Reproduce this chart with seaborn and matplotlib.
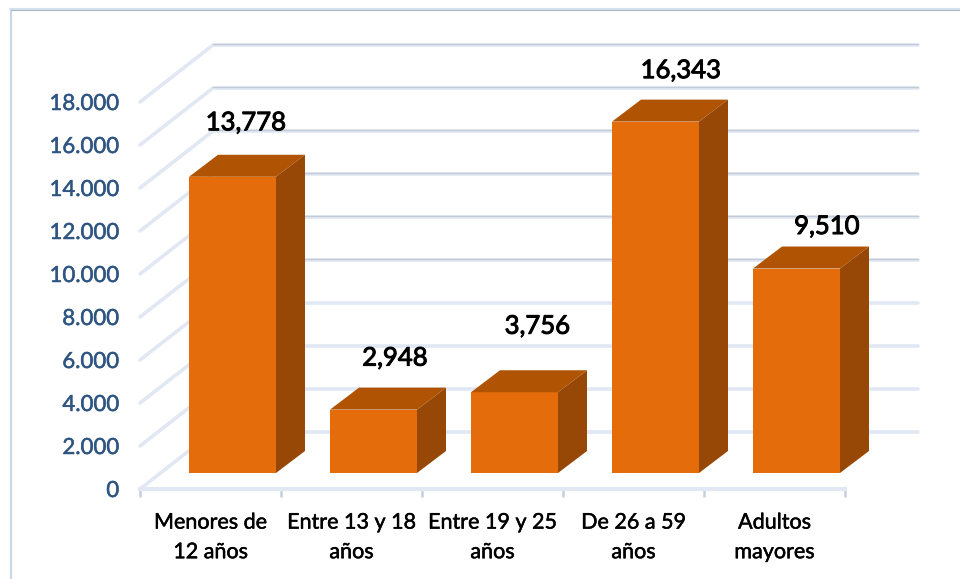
import matplotlib
matplotlib.use('Agg')
import matplotlib.pyplot as plt
import matplotlib.patheffects as pe
from matplotlib.lines import Line2D
from matplotlib.patches import Polygon
import pandas as pd
import seaborn as sns

# data
categorias = ['Menores de\n12 años', 'Entre 13 y 18\naños', 'Entre 19 y 25\naños',
              'De 26 a 59\naños', 'Adultos\nmayores']
valores = [13778, 2948, 3756, 16343, 9510]
ticks_y = [0, 2000, 4000, 6000, 8000, 10000, 12000, 14000, 16000, 18000]

# label offsets from the top of each bar front, in pixels
label_dx = [13.5, 21.5, 23, 25.5, 30.5]
label_dy = [54, 51.5, 66, 51, 42]

W, H = 960, 579
FRONTAL = '#E46C0A'
TAPA = '#B05404'
LADO = '#974806'
GRID = '#E1E8F3'
GRID_OSC = '#C3CBD6'

sns.set_theme(style='white')
plt.rcParams['font.family'] = ['Lato', 'DejaVu Sans']

fig = plt.figure(figsize=(W / 100, H / 100), dpi=100, facecolor='white')


def caja(x0, x1, y_abajo, y_arriba):
    return [x0 / W, 1 - y_abajo / H, (x1 - x0) / W, (y_abajo - y_arriba) / H]


# floor-front plane, holds the axis labels and the walls
ax = fig.add_axes(caja(140, 845, 489, 102))
ax.set_xlim(-0.5, 4.5)
ax.set_ylim(0, 18000)
ax.patch.set_alpha(0)
sns.despine(ax=ax, left=True, top=True, right=True, bottom=False)
ax.spines['bottom'].set_color(GRID)
ax.spines['bottom'].set_linewidth(3)

grueso = [pe.withStroke(linewidth=0.35, foreground='#2F5582')]
negro = [pe.withStroke(linewidth=0.35, foreground='black')]

ax.set_yticks(ticks_y)
ax.set_yticklabels([f'{t:,}'.replace(',', '.') for t in ticks_y], fontsize=16, color='#2F5582',
                   path_effects=grueso)
ax.tick_params(axis='y', length=0, pad=15)
ax.set_xticks(range(len(categorias)))
ax.set_xticklabels(categorias, fontsize=15.5, color='black', linespacing=1.6, path_effects=negro)
ax.tick_params(axis='x', which='major', length=0, pad=17)
ax.set_xticks([i - 0.5 for i in range(len(categorias) + 1)], minor=True)
ax.tick_params(axis='x', which='minor', length=5.5, width=1.8, color='#C5D0DE', bottom=True)

# 3d depth of the walls
px_x = 5 / 705
px_y = 18000 / 387
fondo_x = 73 * px_x
fondo_y = 57 * px_y

for t in ticks_y:
    xs = [-0.5, -0.5 + fondo_x, 4.5 + fondo_x]
    ys = [t, t + fondo_y, t + fondo_y]
    ax.plot(xs, ys, color=GRID, lw=2.6, clip_on=False, solid_capstyle='round', zorder=1)
    if t >= 8000:
        ax.plot(xs[1:], [y + 0.7 * px_y for y in ys[1:]], color=GRID_OSC, lw=1, clip_on=False, zorder=1)

# bars sit in their own plane, a bit inside the floor
ax_b = fig.add_axes(caja(140 + 22, 845 + 22, 489 - 16, 102 - 16), sharey=None)
ax_b.patch.set_alpha(0)
df = pd.DataFrame({'categoria': categorias, 'valor': valores})
sns.barplot(data=df, x='categoria', y='valor', color=FRONTAL, saturation=1, width=87 / 141,
            linewidth=0, ax=ax_b)
ax_b.set_xlim(-0.5, 4.5)
ax_b.set_ylim(0, 18000)
ax_b.axis('off')

prof_x = 29 * px_x
prof_y = 22 * px_y
for i, p in enumerate(list(ax_b.patches)):
    x0, ancho, alto = p.get_x(), p.get_width(), p.get_height()
    x1 = x0 + ancho
    ax_b.add_patch(Polygon([(x0, alto), (x1, alto), (x1 + prof_x, alto + prof_y), (x0 + prof_x, alto + prof_y)],
                           facecolor=TAPA, edgecolor='none', clip_on=False))
    ax_b.add_patch(Polygon([(x1, 0), (x1 + prof_x, prof_y), (x1 + prof_x, alto + prof_y), (x1, alto)],
                           facecolor=LADO, edgecolor='none', clip_on=False))
    ax_b.annotate(f'{valores[i]:,}', (x0 + ancho / 2, alto),
                  xytext=(label_dx[i] * 0.72, label_dy[i] * 0.72), textcoords='offset points',
                  ha='center', va='center', fontsize=18.5, color='black',
                  path_effects=[pe.withStroke(linewidth=0.7, foreground='black')],
                  annotation_clip=False)

# outer chart frame
fig.add_artist(Line2D([11 / W, 11 / W], [0, 1 - 9 / H], color='#C8D8EA', lw=1.6))
fig.add_artist(Line2D([10 / W, 1], [1 - 8.5 / H, 1 - 8.5 / H], color='#D3E2F0', lw=1.5))
fig.add_artist(Line2D([11 / W, 1], [1 - 10 / H, 1 - 10 / H], color='#AEB4BB', lw=0.8))

plt.savefig('out.png', dpi=100, facecolor='white')
